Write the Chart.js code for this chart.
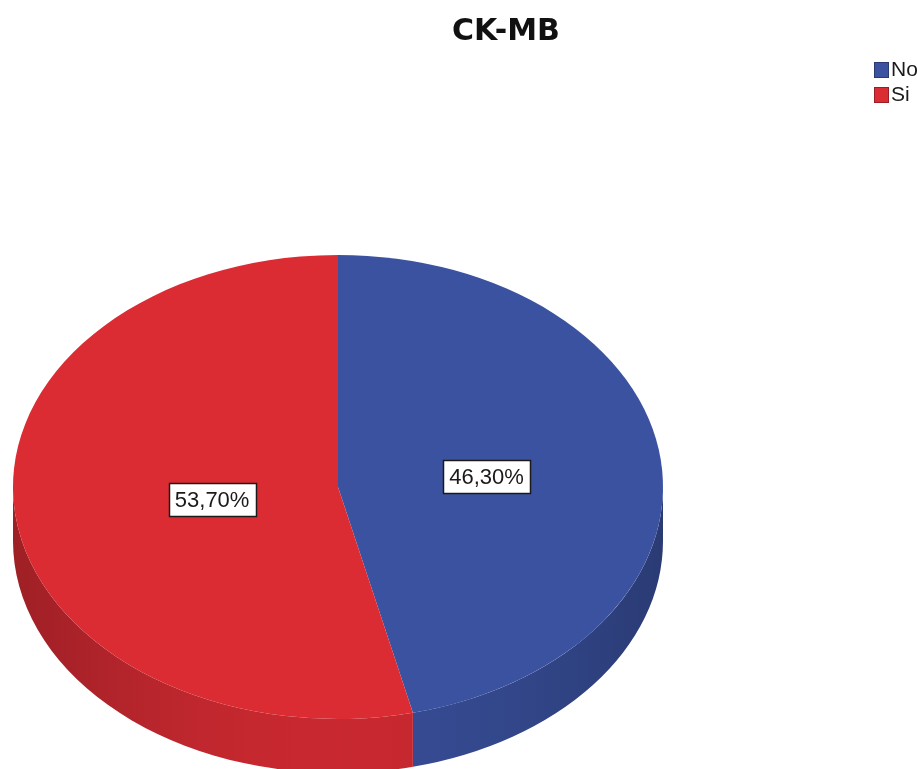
<!DOCTYPE html>
<html>
<head>
<meta charset="utf-8">
<title>CK-MB</title>
<script src="https://cdn.jsdelivr.net/npm/chart.js@4.4.1/dist/chart.umd.min.js"></script>
<style>
  html, body { margin: 0; padding: 0; background: #ffffff; overflow: hidden; }
  #wrap { width: 917px; height: 769px; }
</style>
</head>
<body>
<div id="wrap"><canvas id="ckmb" width="917" height="769"></canvas></div>
<script>
// datos del gráfico
const chartTitle = 'CK-MB';
const categories = ['No', 'Si'];
const percents = [46.30, 53.70];
const sliceColors = ['#3b52a1', '#db2c34'];

// aspecto del pastel "3D"
const tilt = 0.714;        // aplastamiento vertical de la cara superior
const pieCenterY = 487;    // centro de la cara en pantalla
const depth = 54;          // grosor del lateral
const labelRadius = [0.46, 0.39];

function hexToRgb(h) {
    let n = parseInt(h.slice(1), 16);
    return [(n >> 16) & 255, (n >> 8) & 255, n & 255];
}
function shade(h, f) {
    let c = hexToRgb(h).map((v) => Math.round(v * f));
    return `rgb(${c[0]},${c[1]},${c[2]})`;
}
function fmtPct(v) {
    return v.toFixed(2).replace('.', ',') + '%';
}

//=======================================================================================
// plugin: lateral, aplastado de la cara, etiquetas, título y leyenda ===================
//=======================================================================================
const pie3d = {
    id: 'pie3d',
    beforeDatasetsDraw(chart) {
        let ctx = chart.ctx;
        let arcs = chart.getDatasetMeta(0).data;
        if (!arcs.length) return;
        let cx = arcs[0].x, cy = arcs[0].y, R = arcs[0].outerRadius;
        let ry = R * tilt;

        // lateral visible (mitad delantera del borde)
        arcs.forEach((arc, i) => {
            let a0 = Math.max(arc.startAngle, 0);
            let a1 = Math.min(arc.endAngle, Math.PI);
            if (a1 <= a0) return;
            let base = sliceColors[i];
            let g = ctx.createLinearGradient(cx - R, 0, cx + R, 0);
            for (let t = 0; t <= 1.0001; t += 0.1) {
                g.addColorStop(Math.min(t, 1), shade(base, 0.72 + 0.2 * Math.sin(Math.PI * t)));
            }
            ctx.save();
            ctx.beginPath();
            ctx.ellipse(cx, pieCenterY, R, ry, 0, a0, a1, false);
            ctx.ellipse(cx, pieCenterY + depth, R, ry, 0, a1, a0, true);
            ctx.closePath();
            ctx.fillStyle = g;
            ctx.fill();
            ctx.restore();
        });

        // la cara superior se dibuja aplastada
        ctx.save();
        ctx.translate(0, pieCenterY);
        ctx.scale(1, tilt);
        ctx.translate(0, -cy);
    },
    afterDatasetsDraw(chart) {
        let ctx = chart.ctx;
        ctx.restore();
        let arcs = chart.getDatasetMeta(0).data;
        let vals = chart.data.datasets[0].data;

        // etiquetas de porcentaje
        ctx.save();
        ctx.font = '22px "Liberation Sans", Arial, sans-serif';
        ctx.textAlign = 'center';
        ctx.textBaseline = 'middle';
        arcs.forEach((arc, i) => {
            let mid = (arc.startAngle + arc.endAngle) / 2;
            let r = arc.outerRadius * labelRadius[i];
            let x = arc.x + Math.cos(mid) * r;
            let y = pieCenterY + Math.sin(mid) * r * tilt + 2;
            let txt = fmtPct(vals[i]);
            let w = ctx.measureText(txt).width + 12;
            let h = 33;
            ctx.fillStyle = '#ffffff';
            ctx.fillRect(Math.round(x - w / 2), Math.round(y - h / 2), Math.round(w), h);
            ctx.strokeStyle = '#1a1a1a';
            ctx.lineWidth = 1.5;
            ctx.strokeRect(Math.round(x - w / 2) + 0.5, Math.round(y - h / 2) + 0.5, Math.round(w), h);
            ctx.fillStyle = '#1a1a1a';
            ctx.fillText(txt, x, y + 1);
        });
        ctx.restore();
    },
    afterDraw(chart) {
        let ctx = chart.ctx;
        ctx.save();
        // título
        ctx.font = 'bold 30px "DejaVu Sans", sans-serif';
        ctx.fillStyle = '#111111';
        ctx.textAlign = 'center';
        ctx.textBaseline = 'alphabetic';
        ctx.fillText(chartTitle, 506, 40);

        // leyenda
        ctx.font = '21px "Liberation Sans", Arial, sans-serif';
        ctx.textAlign = 'left';
        ctx.textBaseline = 'middle';
        chart.data.labels.forEach((lab, i) => {
            let y = 70 + i * 25;
            ctx.fillStyle = sliceColors[i];
            ctx.fillRect(874, y - 8, 15, 16);
            ctx.strokeStyle = shade(sliceColors[i], 0.7);
            ctx.lineWidth = 1;
            ctx.strokeRect(874.5, y - 7.5, 14, 15);
            ctx.fillStyle = '#1a1a1a';
            ctx.fillText(lab, 891, y);
        });
        ctx.restore();
    }
};

function showPie() {
    let ctx = document.getElementById('ckmb');
    let config = {
        type: 'pie',
        data: {
            labels: categories,
            datasets: [{
                data: percents,
                backgroundColor: sliceColors,
                borderWidth: 0,
                clip: false,
            }]
        },
        options: {
            responsive: false,
            animation: false,
            events: [],
            layout: { padding: { left: 13, right: 254, top: 60, bottom: 59 } },
            plugins: {
                legend: { display: false },
                title: { display: false },
                tooltip: { enabled: false }
            }
        },
        plugins: [pie3d]
    };
    new Chart(ctx, config);
}

showPie();
</script>
</body>
</html>
